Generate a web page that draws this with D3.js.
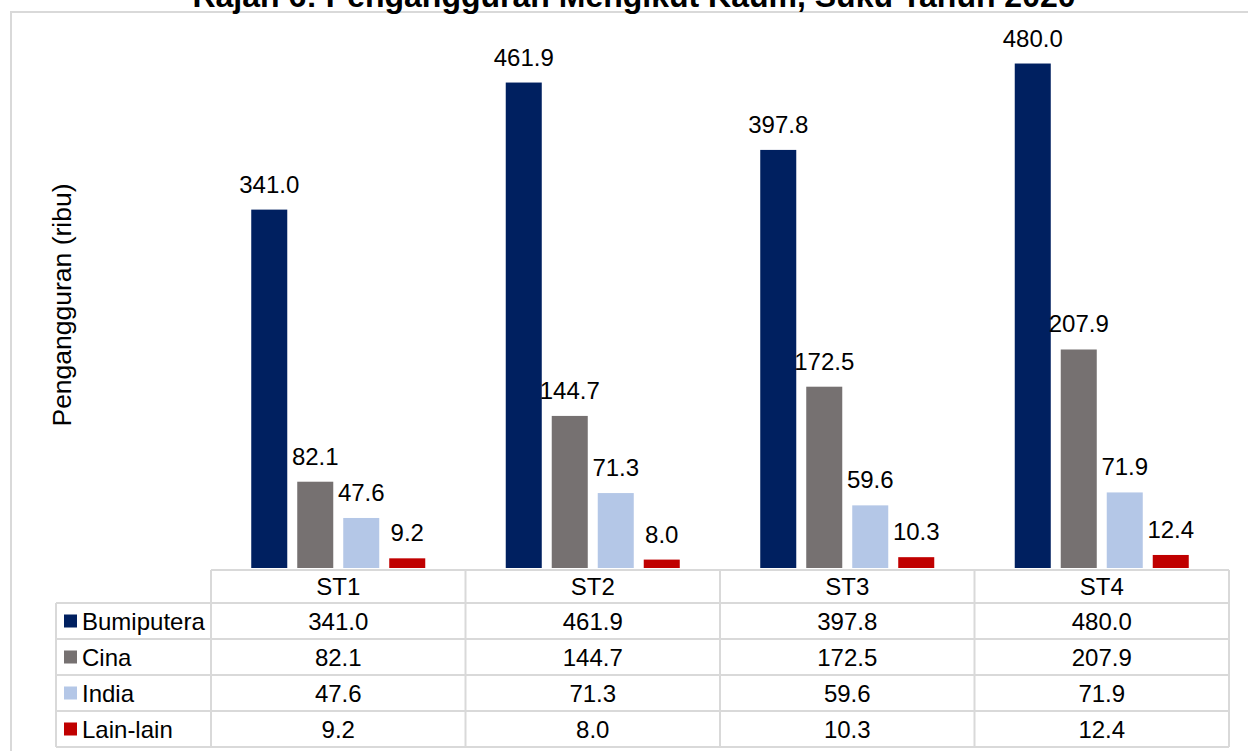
<!DOCTYPE html>
<html>
<head>
<meta charset="utf-8">
<script src="https://cdn.jsdelivr.net/npm/d3@7"></script>
<style>
  html, body { margin: 0; padding: 0; background: #fff; }
  svg { display: block; font-family: "Liberation Sans", Arial, sans-serif; }
</style>
</head>
<body>
<svg id="chart" width="1248" height="751"></svg>
<script>
const title = "Rajah 6: Pengangguran Mengikut Kaum, Suku Tahun 2020";
const yAxisTitle = "Pengangguran (ribu)";
const categories = ["ST1", "ST2", "ST3", "ST4"];
const seriesNames = ["Bumiputera", "Cina", "India", "Lain-lain"];
const bumiputera = [341.0, 461.9, 397.8, 480.0];
const cina = [82.1, 144.7, 172.5, 207.9];
const india = [47.6, 71.3, 59.6, 71.9];
const lainLain = [9.2, 8.0, 10.3, 12.4];
const seriesColors = ["#002060", "#767171", "#b4c7e7", "#c00000"];

const seriesValues = [bumiputera, cina, india, lainLain];
const series = seriesNames.map((n, i) => ({ name: n, values: seriesValues[i], color: seriesColors[i] }));

const svg = d3.select("#chart");
const gridColor = "#d9d9d9";
const fs = 24;

// frame
svg.append("rect").attr("x", 11).attr("y", 12).attr("width", 1260).attr("height", 760)
  .attr("fill", "none").attr("stroke", gridColor).attr("stroke-width", 2);

// title (cut at top in reference)
svg.append("text").attr("x", 634).attr("y", 7).attr("text-anchor", "middle")
  .attr("font-size", 32).attr("font-weight", "bold").attr("fill", "#000").text(title);

const baseY = 568;
const x = d3.scaleBand().domain(categories).range([211, 1229]).paddingInner(0).paddingOuter(0);
const xs = d3.scaleBand().domain(seriesNames).range([0, x.bandwidth()]).paddingInner(0.217).paddingOuter(0.875);
const y = d3.scaleLinear().domain([0, 500]).range([baseY, baseY - 525.5]);

// y-axis title
svg.append("text").attr("transform", `translate(71,305) rotate(-90)`)
  .attr("text-anchor", "middle").attr("font-size", 26.5).attr("fill", "#000")
  .text(yAxisTitle);

// bars
const groups = svg.append("g").selectAll("g").data(series).join("g");
groups.selectAll("rect").data(s => s.values.map((v, i) => ({ s, v, c: categories[i] })))
  .join("rect")
  .attr("x", d => x(d.c) + xs(d.s.name))
  .attr("y", d => y(d.v))
  .attr("width", xs.bandwidth())
  .attr("height", d => baseY - y(d.v))
  .attr("fill", d => d.s.color);

groups.selectAll("text").data(s => s.values.map((v, i) => ({ s, v, c: categories[i] })))
  .join("text")
  .attr("x", d => x(d.c) + xs(d.s.name) + xs.bandwidth() / 2)
  .attr("y", d => y(d.v) - 17)
  .attr("text-anchor", "middle").attr("font-size", fs).attr("fill", "#000")
  .text(d => d.v.toFixed(1));

// data table
const headerTop = 570, headerBottom = 603, tableBottom = 747;
const labelLeft = 56;
const rowY = d3.scaleBand().domain(seriesNames).range([headerBottom, tableBottom]);
const tbl = svg.append("g");
const line = (x1, y1, x2, y2) => tbl.append("line").attr("x1", x1).attr("y1", y1).attr("x2", x2).attr("y2", y2)
  .attr("stroke", gridColor).attr("stroke-width", 2);

// horizontal lines
line(211, headerTop, 1229, headerTop);
line(labelLeft, headerBottom, 1229, headerBottom);
seriesNames.forEach(n => line(labelLeft, rowY(n) + rowY.bandwidth(), 1229, rowY(n) + rowY.bandwidth()));
// vertical lines
line(labelLeft, headerBottom, labelLeft, tableBottom);
categories.forEach(c => line(x(c), headerTop, x(c), tableBottom));
line(1229, headerTop, 1229, tableBottom);

// header
tbl.selectAll("text.hdr").data(categories).join("text").attr("class", "hdr")
  .attr("x", c => x(c) + x.bandwidth() / 2).attr("y", (headerTop + headerBottom) / 2 + 8)
  .attr("text-anchor", "middle").attr("font-size", fs).attr("fill", "#000").text(c => c);

// rows
series.forEach(s => {
  const cy = rowY(s.name) + rowY.bandwidth() / 2;
  tbl.append("rect").attr("x", 64).attr("y", cy - 6.5).attr("width", 13).attr("height", 13).attr("fill", s.color);
  tbl.append("text").attr("x", 82).attr("y", cy + 8.5).attr("font-size", fs).attr("fill", "#000").text(s.name);
  s.values.forEach((v, i) => {
    tbl.append("text").attr("x", x(categories[i]) + x.bandwidth() / 2).attr("y", cy + 8.5)
      .attr("text-anchor", "middle").attr("font-size", fs).attr("fill", "#000").text(v.toFixed(1));
  });
});
</script>
</body>
</html>
